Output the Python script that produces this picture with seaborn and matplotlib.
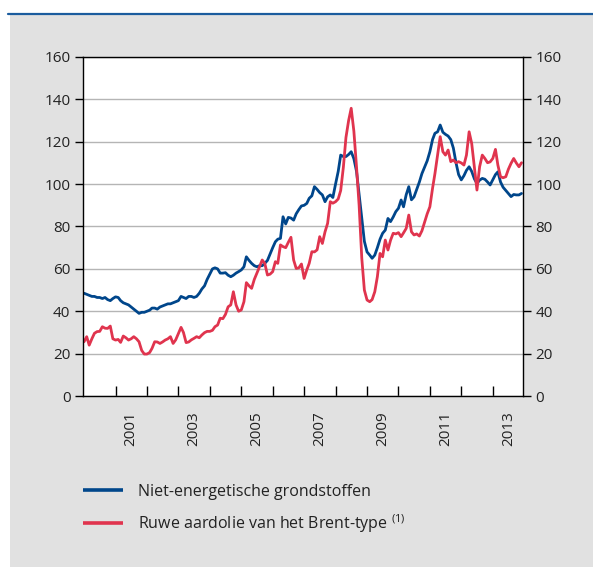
import matplotlib
matplotlib.use("Agg")
import matplotlib.pyplot as plt
import matplotlib.dates as mdates
from matplotlib.patches import Rectangle
from matplotlib.lines import Line2D
import numpy as np
import pandas as pd
import seaborn as sns

sns.set_theme(style="white")
plt.rcParams["font.family"] = ["Open Sans", "DejaVu Sans"]
plt.rcParams["mathtext.fontset"] = "custom"
plt.rcParams["mathtext.rm"] = "Open Sans"

# monthly data, Jan 2000 - Dec 2013 (index)
months = pd.date_range("2000-01-01", "2013-12-01", freq="MS")

niet_energie = [
    48.5, 48.0, 47.5, 47.0, 47.0, 46.5, 46.5, 46.0, 46.5, 45.5, 45.0, 46.0,
    46.8, 46.5, 45.0, 44.0, 43.5, 43.0, 42.0, 41.0, 40.0, 39.0, 39.5, 39.5,
    40.0, 40.5, 41.5, 41.5, 41.0, 42.0, 42.5, 43.0, 43.5, 43.5, 44.0, 44.5,
    45.0, 47.0, 46.5, 46.0, 47.0, 47.0, 46.5, 47.0, 48.5, 50.5, 52.0, 55.0,
    57.5, 60.0, 60.5, 60.0, 58.0, 58.0, 58.2, 57.0, 56.3, 57.0, 58.0, 58.7,
    59.5, 61.0, 65.7, 64.0, 62.6, 61.5, 61.0, 61.5, 61.5, 62.6, 64.0, 67.0,
    70.0, 72.8, 74.0, 74.4, 84.6, 81.2, 84.3, 84.0, 83.0, 86.0, 88.0, 89.7,
    90.0, 90.9, 93.3, 94.5, 98.8, 97.5, 96.0, 94.9, 91.7, 94.0, 94.9, 93.7,
    100.0, 106.0, 113.7, 113.0, 113.0, 114.0, 115.3, 112.0, 106.0, 95.0, 84.0, 73.0,
    68.0, 66.5, 65.0, 66.5, 70.0, 74.0, 76.8, 78.3, 83.8, 82.3, 84.5, 87.0,
    88.6, 92.5, 89.3, 95.0, 98.8, 92.6, 94.0, 97.5, 101.0, 105.0, 108.0, 111.0,
    115.3, 121.0, 124.0, 124.7, 127.9, 124.5, 123.5, 122.7, 121.0, 117.0, 110.0, 104.5,
    102.0, 104.0, 106.5, 108.2, 106.0, 102.5, 100.3, 101.9, 102.7, 102.3, 101.0, 99.6,
    102.0, 104.5, 105.8, 101.0, 98.5, 97.0, 95.5, 94.1, 95.1, 94.9, 94.9, 95.6,
]

brent = [
    25.6, 28.0, 24.0, 27.0, 29.6, 30.4, 30.5, 32.7, 32.0, 31.9, 33.0, 27.0,
    26.4, 26.7, 25.3, 28.3, 27.5, 26.4, 27.0, 28.0, 27.0, 25.6, 21.5, 19.8,
    19.8, 20.5, 22.5, 25.6, 25.5, 24.8, 25.5, 26.4, 27.0, 28.0, 24.8, 26.5,
    29.5, 32.4, 30.0, 25.2, 25.5, 26.5, 27.2, 28.0, 27.5, 28.8, 29.9, 30.5,
    30.5, 31.0, 32.7, 33.5, 36.7, 36.5, 38.5, 42.1, 43.0, 49.2, 43.0, 40.0,
    40.6, 44.5, 53.5, 52.0, 50.8, 55.0, 57.9, 61.0, 64.2, 62.6, 57.1, 57.5,
    58.7, 63.4, 62.6, 71.3, 70.5, 70.0, 72.5, 74.9, 64.2, 60.2, 60.5, 62.3,
    55.5, 59.5, 62.6, 68.1, 68.0, 69.0, 75.2, 72.0, 77.5, 81.5, 91.7, 91.0,
    91.7, 93.0, 97.0, 108.0, 122.0, 130.0, 135.8, 125.0, 108.0, 90.0, 65.0, 50.0,
    45.3, 44.5, 45.5, 49.2, 56.3, 67.3, 65.7, 73.6, 68.9, 73.5, 76.8, 76.5,
    77.1, 75.2, 77.0, 79.1, 85.4, 77.5, 76.0, 76.5, 75.5, 78.0, 82.0, 86.0,
    89.3, 98.0, 105.0, 114.0, 122.4, 115.3, 113.7, 116.1, 110.6, 111.4, 110.1, 110.6,
    110.0, 109.0, 113.7, 124.7, 119.2, 108.2, 97.2, 108.2, 113.7, 112.1, 110.1, 110.5,
    112.1, 116.4, 109.0, 103.5, 103.0, 103.5, 107.0, 109.8, 112.1, 110.0, 108.2, 110.1,
]

series_names = ["Niet-energetische grondstoffen",
                "Ruwe aardolie van het Brent-type $^{\\mathrm{(1)}}$"]
colors = ["#00468b", "#e0344e"]
y_ticks = [0, 20, 40, 60, 80, 100, 120, 140, 160]
label_years = [2001, 2003, 2005, 2007, 2009, 2011, 2013]

df = pd.DataFrame({
    "datum": np.tile(months.values, 2),
    "waarde": niet_energie + brent,
    "reeks": np.repeat(series_names, len(months)),
})

W, H = 593, 567
fig = plt.figure(figsize=(W / 100, H / 100), dpi=100, facecolor="white")
# grey panel and blue rule on top
fig.patches.append(Rectangle((10 / W, 0), 1, (H - 15) / H, transform=fig.transFigure,
                             facecolor="#e1e1e1", edgecolor="none", zorder=-5))
fig.add_artist(Line2D([8 / W, 1], [(H - 14) / H] * 2, color="#1b5c9e", lw=1.6))

ax = fig.add_axes([83 / W, (H - 396) / H, 440 / W, 339 / H])
ax.set_zorder(2)
sns.lineplot(data=df, x="datum", y="waarde", hue="reeks", palette=colors,
             linewidth=2.0, ax=ax)

ax.set_facecolor("white")
ax.set_xlim(mdates.date2num(pd.Timestamp("1999-12-20")),
            mdates.date2num(pd.Timestamp("2013-12-18")))
ax.set_ylim(0, 160)
ax.set_xlabel("")
ax.set_ylabel("")

# year ticks (no labels) + labels in the middle of odd years
ax.set_xticks([mdates.date2num(pd.Timestamp(f"{y}-01-01")) for y in range(2001, 2014)])
ax.set_xticklabels([])
ax.set_xticks([mdates.date2num(pd.Timestamp(f"{y}-07-01")) for y in label_years], minor=True)
ax.set_xticklabels([str(y) for y in label_years], minor=True)
ax.tick_params(axis="x", which="major", direction="in", length=7, width=1,
               color="black", bottom=True)
ax.tick_params(axis="x", which="minor", length=0, pad=11, labelrotation=90,
               labelsize=11, labelcolor="#222222")

ax.set_yticks(y_ticks)
ax.tick_params(axis="y", direction="out", length=6, width=1, color="black",
               left=True, right=True, labelleft=True, labelright=True,
               labelsize=11, labelcolor="#222222", pad=3)

ax.yaxis.grid(True, color="#b5b5b5", lw=1)
ax.xaxis.grid(False)
for s in ax.spines.values():
    s.set_visible(True)
    s.set_color("black")
    s.set_linewidth(1)

handles, labels = ax.get_legend_handles_labels()
leg = ax.legend(handles, labels, loc="upper left",
                bbox_to_anchor=(83 / W, (H - 484) / H), bbox_transform=fig.transFigure,
                frameon=False, handlelength=2.5, handletextpad=0.95, labelspacing=0.75,
                fontsize=11.5, borderaxespad=0, borderpad=0)
for line in leg.get_lines():
    line.set_linewidth(2.6)
    line.set_solid_capstyle("butt")
for t in leg.get_texts():
    t.set_color("#222222")

fig.savefig("out.png", dpi=100)
